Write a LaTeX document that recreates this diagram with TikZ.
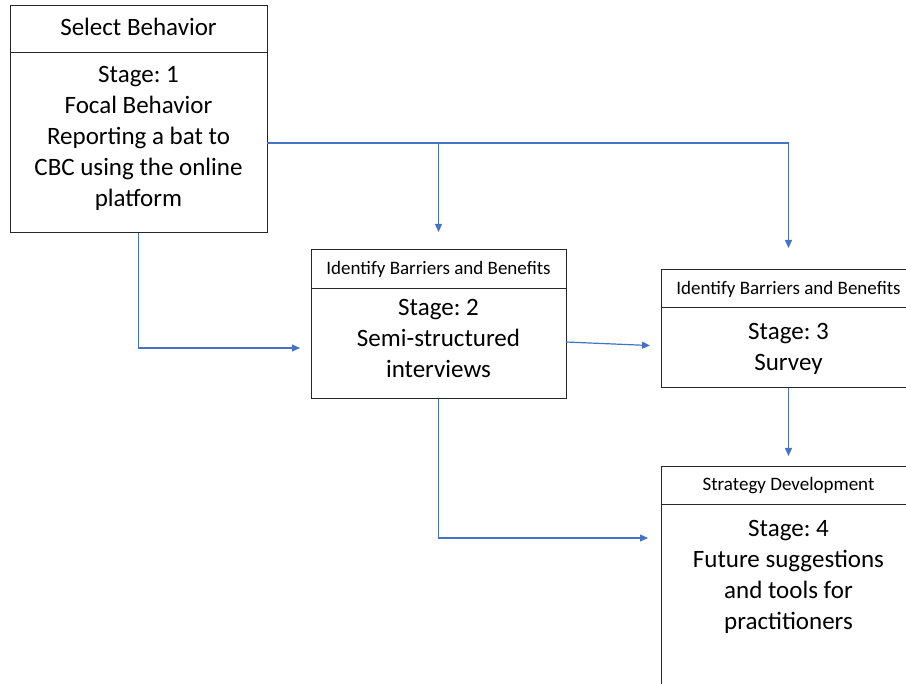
\documentclass[tikz,border=0pt]{standalone}
\usepackage{fontspec}
\setmainfont{Carlito}
\usetikzlibrary{arrows.meta, positioning}
\definecolor{linkblue}{HTML}{4472C4}
\frenchspacing

\begin{document}
\begin{tikzpicture}[
  x=1pt, y=-1pt,
  head/.style={draw=black!85, line width=1pt, outer sep=0pt, inner sep=0pt,
               font=\fontsize{19}{23}\selectfont},
  body/.style={draw=black!85, line width=1pt, outer sep=0pt, inner sep=0pt},
  txt/.style={align=center, inner sep=0pt, font=\fontsize{25}{31}\selectfont},
  link/.style={draw=linkblue, line width=1.2pt, -{Triangle[length=8pt,width=7pt]}}
]
\useasboundingbox (0,0) rectangle (906,684);

% --- Stage 1 ---
\node[head, font=\fontsize{25}{31}\selectfont, text depth=5pt, minimum width=257,
      minimum height=47, anchor=north west] (selhd) at (10,6) {Select Behavior};
\node[body, minimum width=257, minimum height=180, below=0pt of selhd] (selbd) {};
\node[txt, below=13pt of selbd.north] (seltx)
  {Stage: 1\\Focal Behavior\\Reporting a bat to\\CBC using the online\\platform};

% --- Stage 2 ---
\node[head, minimum width=255, minimum height=39, anchor=north west] (intvhd) at (311,250)
  {Identify Barriers and Benefits};
\node[body, minimum width=255, minimum height=110, below=0pt of intvhd] (intvbd) {};
\node[txt, below=10pt of intvbd.north] (intvtx) {Stage: 2\\Semi-structured\\interviews};

% --- Stage 3 ---
\node[head, minimum width=255, minimum height=38, anchor=north west] (srvhd) at (661,270)
  {Identify Barriers and Benefits};
\node[body, minimum width=255, minimum height=80, below=0pt of srvhd] (srvbd) {};
\node[txt, below=15pt of srvbd.north] (srvtx) {Stage: 3\\Survey};

% --- Stage 4 ---
\node[head, minimum width=255, minimum height=38, anchor=north west] (strathd) at (661,467)
  {Strategy Development};
\node[body, minimum width=255, minimum height=230, below=0pt of strathd] (stratbd) {};
\node[txt, below=15pt of stratbd.north] (strattx)
  {Stage: 4\\Future suggestions\\and tools for\\practitioners};

% === Connectors ===
\draw[link, shorten >=22pt] (selbd.east) -| (srvhd.north);
\draw[link, shorten >=18pt] (selbd.east -| intvhd.north) -- (intvhd.north);
\draw[link, shorten >=11pt] (selbd.south) |- ([yshift=-4pt]intvbd.west);
\draw[link, shorten >=11pt] ([yshift=2pt]intvbd.east) -- ([yshift=2pt]srvbd.west);
\draw[link, shorten >=11pt] (srvbd.south) -- (strathd.north);
\draw[link, shorten >=13pt] (intvbd.south) |- ([yshift=-33pt]stratbd.north west);

\end{tikzpicture}
\end{document}
